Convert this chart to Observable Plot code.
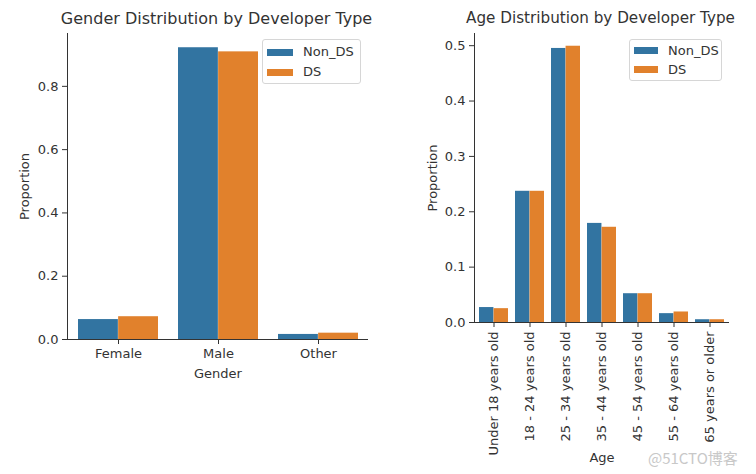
<!DOCTYPE html>
<html><head><meta charset="utf-8">
<script src="https://cdn.jsdelivr.net/npm/d3@7"></script>
<script src="https://cdn.jsdelivr.net/npm/@observablehq/plot@0.6"></script>
<style>
body{margin:0;background:#fff;}
#wrap{position:relative;width:756px;height:474px;font-family:"DejaVu Sans",sans-serif;color:#333;overflow:hidden;}
.title{position:absolute;top:9px;transform:translateX(-50%);white-space:nowrap;color:#333;}
.chart{position:absolute;top:0;}
.legend{position:absolute;border:1px solid #d6d6d6;border-radius:3px;background:#fff;font-size:13px;box-sizing:border-box;}
.legend .sw{position:absolute;}
.legend .lab{position:absolute;line-height:16px;color:#333;white-space:nowrap;}
.wm{position:absolute;left:648px;top:447px;font-family:"Noto Sans CJK SC","DejaVu Sans",sans-serif;font-size:15px;color:#c8c8c8;white-space:nowrap;}
</style></head>
<body>
<div id="wrap"></div>
<script>
const seriesNames = ["Non_DS", "DS"];
const seriesColors = ["#3274a1", "#e1812c"];

const genders = ["Female", "Male", "Other"];
const genderNonDS = [0.063, 0.922, 0.016];
const genderDS = [0.072, 0.909, 0.020];

const ages = ["Under 18 years old", "18 - 24 years old", "25 - 34 years old", "35 - 44 years old", "45 - 54 years old", "55 - 64 years old", "65 years or older"];
const ageNonDS = [0.027, 0.237, 0.495, 0.179, 0.052, 0.016, 0.005];
const ageDS = [0.025, 0.237, 0.499, 0.172, 0.052, 0.019, 0.005];

const genderTicks = [0, 0.2, 0.4, 0.6, 0.8];
const ageTicks = [0, 0.1, 0.2, 0.3, 0.4, 0.5];

const wrap = document.getElementById("wrap");

function makeChart(o) {
  const table = o.cats.map((c, i) => ({cat: c, a: o.a[i], b: o.b[i]}));
  const range = o.width - o.ml - o.mr;
  const step = range / o.cats.length;
  const half = step * 0.8 / 2;
  const chart = Plot.plot({
    width: o.width, height: o.height,
    marginLeft: o.ml, marginRight: o.mr, marginTop: o.mt, marginBottom: o.mb,
    style: {fontFamily: "DejaVu Sans", fontSize: "13px", color: "#333", background: "transparent", overflow: "visible"},
    x: {domain: o.cats, paddingInner: 0.2, paddingOuter: 0.1},
    y: {domain: [0, o.ymax]},
    marks: [
      Plot.barY(table, {x: "cat", y: "a", fill: seriesColors[0], insetRight: half}),
      Plot.barY(table, {x: "cat", y: "b", fill: seriesColors[1], insetLeft: half}),
      Plot.frame({anchor: "left", stroke: "#333", strokeOpacity: 1}),
      Plot.ruleY([0], {stroke: "#333"}),
      Plot.axisY({ticks: o.yTicks, tickFormat: d3.format(".1f"), tickSize: 5, tickPadding: 4, stroke: "#333",
        label: "Proportion", labelAnchor: "center", labelOffset: o.yLabelOffset, labelArrow: "none"}),
      Plot.axisX({tickSize: 5, tickPadding: 4, tickRotate: o.rotate, stroke: "#333",
        label: o.xLabel, labelAnchor: "center", labelOffset: o.xLabelOffset, labelArrow: "none"})
    ]
  });
  chart.classList.add("chart");
  chart.style.left = o.left + "px";
  wrap.appendChild(chart);

  const t = document.createElement("div");
  t.className = "title";
  t.textContent = o.title;
  t.style.fontSize = o.titleSize + "px";
  t.style.left = (o.left + o.ml + range / 2 + o.titleShift) + "px";
  wrap.appendChild(t);

  const lg = document.createElement("div");
  lg.className = "legend";
  Object.assign(lg.style, {left: o.lg.x + "px", top: o.lg.y + "px", width: o.lg.w + "px", height: o.lg.h + "px"});
  seriesNames.forEach((name, i) => {
    const sw = document.createElement("div");
    sw.className = "sw";
    Object.assign(sw.style, {left: o.lg.px + "px", top: (o.lg.row0 + i * o.lg.rowH - 3.5) + "px", width: o.lg.pw + "px", height: "7px", background: seriesColors[i]});
    lg.appendChild(sw);
    const lb = document.createElement("div");
    lb.className = "lab";
    lb.textContent = name;
    Object.assign(lb.style, {left: o.lg.tx + "px", top: (o.lg.row0 + i * o.lg.rowH - 8) + "px"});
    lg.appendChild(lb);
  });
  wrap.appendChild(lg);
}

makeChart({
  cats: genders, a: genderNonDS, b: genderDS,
  left: 0, width: 380, height: 474, ml: 67, mr: 12, mt: 33, mb: 135,
  ymax: 0.967, yTicks: genderTicks, rotate: 0,
  xLabel: "Gender", xLabelOffset: 38, yLabelOffset: 48,
  title: "Gender Distribution by Developer Type", titleSize: 16, titleShift: -1,
  lg: {x: 262, y: 39, w: 99, h: 45, px: 4, pw: 26, tx: 40, row0: 12, rowH: 20}
});

makeChart({
  cats: ages, a: ageNonDS, b: ageDS,
  left: 380, width: 376, height: 474, ml: 94, mr: 27, mt: 33, mb: 152,
  ymax: 0.522, yTicks: ageTicks, rotate: -90,
  xLabel: "Age", xLabelOffset: 139, yLabelOffset: 47,
  title: "Age Distribution by Developer Type", titleSize: 15.2, titleShift: -1,
  lg: {x: 629, y: 39, w: 93, h: 42, px: 4, pw: 24, tx: 38, row0: 10.5, rowH: 19}
});

const wm = document.createElement("div");
wm.className = "wm";
wm.textContent = "@51CTO博客";
wrap.appendChild(wm);
</script>
</body></html>
